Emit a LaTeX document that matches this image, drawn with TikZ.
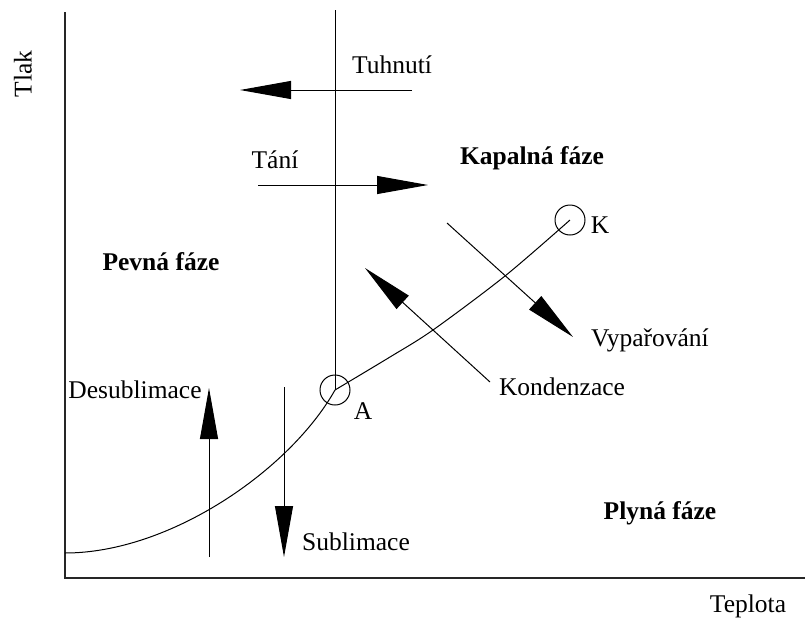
\documentclass[tikz,border=0pt]{standalone}
\usepackage{fontspec}
\setmainfont{Liberation Serif}
\usetikzlibrary{arrows.meta}

\begin{document}
\begin{tikzpicture}[x = 1pt, y = -1pt, font = \fontsize{25.5}{30}\selectfont,
	phase/.style = {font = \fontsize{25.5}{30}\selectfont\bfseries},
	bigarrow/.style = {-{Triangle[length = 51pt, width = 18pt]}, line width = 1pt},
	point/.style = {circle, draw, minimum size = 30pt, inner sep = 0pt, line width = 1pt}]
	\useasboundingbox (0,0) rectangle (807,619);
	% axes
	\coordinate (ytop) at (65,12);
	\coordinate (origin) at (65,578);
	\coordinate (xend) at (805,578);
	\draw [line width = 1.2pt, color = black!85] (ytop) -- (origin) -- (xend);
	\node (tlak) at (23,74) [rotate = 90] {Tlak};
	\node (teplota) at (748,606) {Teplota};
	% triple point and critical point
	\node (A) at (335,390) [point] {};
	\node (K) at (570,220) [point] {};
	\node (Alabel) at (363,411) {A};
	\node (Klabel) at (600,225) {K};
	% phase boundaries
	\coordinate (melttop) at (335,10);
	\coordinate (curvestart) at (65,553);
	\draw [line width = 1pt] (melttop) -- (A.center);
	\draw [line width = 1pt] (curvestart) .. controls (170,553) and (290,470) .. (A.center);
	\draw [line width = 1pt] plot [smooth] coordinates {(335,390) (390,357) (433,330) (505,276) (570,220)};
	% transitions
	\coordinate (tuhA) at (412,90);   \coordinate (tuhB) at (240,90);
	\coordinate (taniA) at (258,185); \coordinate (taniB) at (428,185);
	\coordinate (desA) at (209,557);  \coordinate (desB) at (209,388);
	\coordinate (subA) at (284,387);  \coordinate (subB) at (284,557);
	\coordinate (konA) at (490,382);  \coordinate (konB) at (365,268);
	\coordinate (vypA) at (447,223);  \coordinate (vypB) at (573,337);
	\foreach \a/\b in {tuhA/tuhB, taniA/taniB, desA/desB, subA/subB, konA/konB, vypA/vypB}
	\draw [bigarrow] (\a) -- (\b);
	\node (tuhnuti) at (392,65) {Tuhnutí};
	\node (tani) at (275,160) {Tání};
	\node (desublimace) at (135,390) {Desublimace};
	\node (sublimace) at (356,542) {Sublimace};
	\node (kondenzace) at (562,387) {Kondenzace};
	\node (vyparovani) at (650,340) {Vypařování};
	% phases
	\node (pevna) at (161,262) [phase] {Pevná fáze};
	\node (kapalna) at (532,158) [phase] {Kapalná fáze};
	\node (plyna) at (660,513) [phase] {Plyná fáze};
\end{tikzpicture}
\end{document}
